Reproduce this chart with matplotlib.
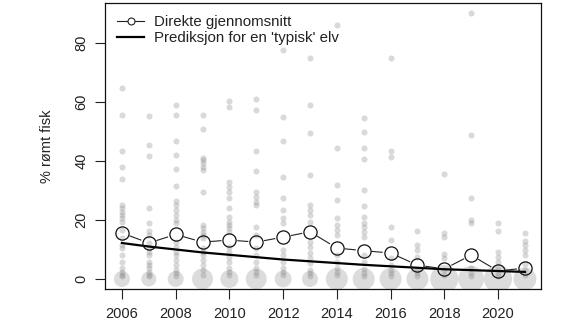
import numpy as np
import matplotlib
matplotlib.use('Agg')
import matplotlib.pyplot as plt
from matplotlib.lines import Line2D

plt.rcParams['font.family'] = ['Liberation Sans', 'DejaVu Sans']

# Data
years = list(range(2006, 2022))
mean_pct = [15.6, 12.2, 15.1, 12.5, 13.2, 12.5, 14.2, 16.0, 10.5, 9.6, 8.8, 4.7, 3.4, 8.1, 2.7, 3.7]
pred_pct = [12.2, 11.0, 10.0, 9.0, 8.2, 7.4, 6.6, 6.0, 5.4, 4.8, 4.3, 3.8, 3.3, 3.0, 2.7, 2.4]
# relative number of rivers with 0 % escaped fish (bubble area)
zero_weight = [64, 56, 64, 110, 81, 110, 72, 64, 121, 121, 121, 121, 196, 169, 196, 132]

# individual rivers, % escaped fish per year
r2006 = [64.7, 55.6, 43.4, 38.0, 33.9, 25.0, 24.0, 22.7, 21.7, 20.7, 19.3, 16.6, 13.9, 11.5, 10.5, 8.1, 5.8, 3.7, 2.4, 1.5, 1.0]
r2007 = [55.3, 45.4, 41.7, 24.0, 19.0, 16.3, 14.9, 12.2, 10.5, 9.2, 8.1, 5.8, 4.7, 3.7, 2.4, 1.5, 1.0]
r2008 = [59.0, 55.6, 46.8, 42.0, 37.3, 31.5, 26.4, 25.0, 23.4, 21.7, 20.0, 19.0, 12.5, 10.8, 9.2, 8.1, 6.4, 4.7, 3.0, 2.0, 1.0]
r2009 = [55.6, 50.8, 41.0, 40.3, 39.3, 38.0, 37.0, 29.5, 18.3, 17.3, 16.0, 14.9, 13.9, 10.5, 9.2, 8.1, 6.4, 4.7, 3.0, 1.5]
r2010 = [60.3, 58.3, 32.9, 31.2, 29.5, 27.5, 24.0, 21.0, 19.3, 18.3, 17.3, 16.0, 10.8, 9.2, 7.5, 5.8, 3.7, 2.5, 1.5]
r2011 = [61.0, 57.3, 43.4, 36.6, 29.5, 27.8, 26.1, 25.0, 17.6, 14.9, 10.5, 8.1, 5.8, 3.7, 2.5, 1.5]
r2012 = [77.6, 54.9, 46.8, 34.6, 27.5, 23.4, 20.7, 19.0, 9.8, 8.1, 5.8, 3.7, 2.5, 1.5]
r2013 = [74.9, 59.0, 49.5, 35.3, 25.0, 23.4, 21.7, 19.3, 12.5, 10.8, 8.8, 7.1, 5.4, 3.0, 2.0, 1.0]
r2014 = [86.1, 44.4, 31.9, 26.8, 20.7, 18.3, 16.6, 14.9, 8.1, 5.8, 3.7, 2.5, 1.5]
r2015 = [54.6, 49.8, 44.4, 40.7, 30.2, 24.7, 21.0, 19.0, 17.6, 16.0, 14.2, 8.1, 5.8, 3.5, 2.0, 1.0]
r2016 = [74.9, 43.4, 41.4, 17.6, 13.2, 7.1, 4.7, 3.0, 2.0, 1.0]
r2017 = [16.3, 11.5, 9.8, 7.5, 3.0, 2.0, 1.0]
r2018 = [35.6, 15.6, 14.2, 8.5, 7.1, 3.0, 1.5]
r2019 = [90.2, 48.8, 27.5, 20.0, 19.0, 3.7, 2.0, 1.0]
r2020 = [19.0, 16.3, 9.2, 7.5, 5.8, 3.5, 2.0, 1.0]
r2021 = [15.6, 12.9, 11.5, 9.8, 8.1, 5.0, 3.0, 1.5]
river_pct = [r2006, r2007, r2008, r2009, r2010, r2011, r2012, r2013,
             r2014, r2015, r2016, r2017, r2018, r2019, r2020, r2021]

fig = plt.figure(figsize=(5.63, 3.35), dpi=100)
ax = fig.add_axes([105 / 563, 46 / 335, 436 / 563, 286 / 335])
ax.set_xlim(2005.37, 2021.6)
ax.set_ylim(-3.4, 93.6)

dot_col = (0.55, 0.55, 0.55)

# gray river points
for yr, vals in zip(years, river_pct):
    ax.scatter([yr] * len(vals), vals, s=19, color=dot_col, alpha=0.33,
               linewidths=0, zorder=1)
# bubbles for rivers at 0 %
ax.scatter(years, [0] * len(years), s=np.array(zero_weight) * 2.07,
           color=dot_col, alpha=0.3, linewidths=0, zorder=1)

# prediction line
ax.plot(years, pred_pct, color='black', lw=1.6, zorder=3)

# direct average, R type="b" (line broken around the points)
pts = ax.transData.transform(np.column_stack([years, mean_pct]))
inv = ax.transData.inverted()
gap = 8.5
for p0, p1 in zip(pts[:-1], pts[1:]):
    d = p1 - p0
    L = np.hypot(*d)
    if L <= 2 * gap:
        continue
    u = d / L
    a = inv.transform(p0 + u * gap)
    b = inv.transform(p1 - u * gap)
    ax.plot([a[0], b[0]], [a[1], b[1]], color='#222222', lw=0.8, zorder=4)
ax.plot(years, mean_pct, ls='none', marker='o', ms=9.5, mfc='none',
        mec='#111111', mew=0.9, zorder=5)

ax.set_xticks(range(2006, 2021, 2))
ax.set_yticks([0, 20, 40, 60, 80])
ax.set_yticklabels(['0', '20', '40', '60', '80'], rotation=90, va='center')
ax.tick_params(direction='out', length=7, width=0.8, labelsize=10.5,
               colors='#222222')
ax.tick_params(axis='x', pad=6)
ax.tick_params(axis='y', pad=5)
for sp in ax.spines.values():
    sp.set_linewidth(0.9)
    sp.set_color('#111111')

ax.set_ylabel('% rømt fisk', fontsize=10.5, color='#222222')
ax.yaxis.set_label_coords(-0.118, 0.5)

handles = [Line2D([], [], color='#222222', lw=0.8, marker='o', ms=5,
                  mfc='white', mec='#222222', mew=0.8),
           Line2D([], [], color='black', lw=1.6)]
ax.legend(handles, ['Direkte gjennomsnitt', "Prediksjon for en 'typisk' elv"],
          loc='upper left', frameon=False, fontsize=10.8, handlelength=1.8,
          handletextpad=0.7, labelspacing=0.15, borderaxespad=0.2,
          borderpad=0.6, labelcolor='#222222')

fig.savefig('out.png', dpi=100)
